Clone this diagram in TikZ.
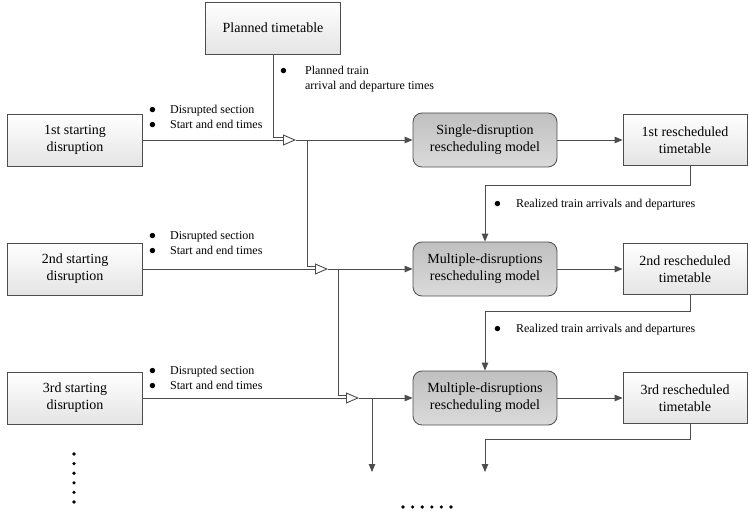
\documentclass[tikz,border=0pt]{standalone}
\usepackage{fontspec}
\setmainfont{Liberation Serif}
\usetikzlibrary{arrows.meta,calc}

\definecolor{linegray}{RGB}{77,77,77}
\definecolor{boxgray}{RGB}{228,228,228}
\definecolor{modtop}{RGB}{192,192,192}
\definecolor{modbot}{RGB}{218,218,218}
\newcommand\boxfont{\fontsize{14}{17}\selectfont}
\newcommand\notefont{\fontsize{12}{15}\selectfont}
\newcommand\dotmark{\scalebox{1.15}{$\bullet$}}

\tikzset{
  box/.style={draw=linegray, line width=0.8pt, top color=white, bottom color=boxgray,
    minimum width=135pt, minimum height=52pt, inner sep=0pt, align=center, font=\boxfont},
  resbox/.style={box, minimum width=124pt, minimum height=51pt},
  model/.style={box, rounded corners=9pt, top color=modtop, bottom color=modbot,
    minimum width=144pt, minimum height=54pt},
  link/.style={draw=linegray, line width=0.9pt},
  flow/.style={link, -{Triangle[length=8pt,width=6.5pt]}},
  merge/.style={link, -{Triangle[open,length=13pt,width=11pt]}},
  note/.style={anchor=west, inner sep=0pt, font=\notefont}
}

\begin{document}
\begin{tikzpicture}[x=1pt,y=1pt,yscale=-1]
\useasboundingbox (0,0) rectangle (749,513);

% Boxes
\node[box] (plan) at (273,28) {Planned timetable};
\node[box] (dis1) at (75,140) {1st starting\\disruption};
\node[box] (dis2) at (75,269) {2nd starting\\disruption};
\node[box] (dis3) at (75,398) {3rd starting\\disruption};
\node[model] (mod1) at (485,140) {Single-disruption\\rescheduling model};
\node[model] (mod2) at (485,269) {Multiple-disruptions\\rescheduling model};
\node[model] (mod3) at (485,398) {Multiple-disruptions\\rescheduling model};
\node[resbox] (res1) at (685,140) {1st rescheduled\\timetable};
\node[resbox] (res2) at (685,269) {2nd rescheduled\\timetable};
\node[resbox] (res3) at (685,398) {3rd rescheduled\\timetable};

% Merge tips and branch points
\coordinate (tip1) at (296,140);
\coordinate (tip2) at (328,269);
\coordinate (tip3) at (359,398);
\coordinate (br1) at (307,140);
\coordinate (br2) at (338,269);
\coordinate (br3) at (372,398);
\coordinate (end3) at (372,472);
\coordinate (end4) at (485,472);

% Inputs into merges
\draw[link] (plan.south) |- ($(tip1)+(-13,-3)$);
\draw[merge] (dis1) -- (tip1);
\draw[link] (br1) |- ($(tip2)+(-13,-3)$);
\draw[merge] (dis2) -- (tip2);
\draw[link] (br2) |- ($(tip3)+(-13,-3)$);
\draw[merge] (dis3) -- (tip3);

% Into models
\draw[flow] (tip1) -- (mod1);
\draw[flow] (tip2) -- (mod2);
\draw[flow] (tip3) -- (mod3);
\draw[flow] (br3) -- (end3);

% Models to timetables
\draw[flow] (mod1) -- (res1);
\draw[flow] (mod2) -- (res2);
\draw[flow] (mod3) -- (res3);

% Feedback of realized times
\draw[flow] ([xshift=5pt]res1.south) -- ++(0,20) -| (mod2.north);
\draw[flow] ([xshift=5pt]res2.south) -- ++(0,17) -| (mod3.north);
\draw[flow] ([xshift=5pt]res3.south) -- ++(0,16) -| (end4);

% Notes
\node[note] (n0) at (280,79.5) {\begin{tabular}{@{}l@{\hspace{18pt}}l@{}}\dotmark & Planned train\\ & arrival and departure times\end{tabular}};
\node[note] (n1) at (149,118.5) {\begin{tabular}{@{}l@{\hspace{14pt}}l@{}}\dotmark & Disrupted section\\ \dotmark & Start and end times\end{tabular}};
\node[note] (n2) at (149,243.5) {\begin{tabular}{@{}l@{\hspace{14pt}}l@{}}\dotmark & Disrupted section\\ \dotmark & Start and end times\end{tabular}};
\node[note] (n3) at (149,379) {\begin{tabular}{@{}l@{\hspace{14pt}}l@{}}\dotmark & Disrupted section\\ \dotmark & Start and end times\end{tabular}};
\node[note] (n4) at (494,205) {\dotmark\hspace{15pt}Realized train arrivals and departures};
\node[note] (n5) at (494,330) {\dotmark\hspace{15pt}Realized train arrivals and departures};

% Continuation dots
\foreach \k in {0,...,5}
  \fill (74,454+9.6*\k) circle (1.8);
\foreach \k in {0,...,5}
  \fill (403+9.6*\k,507) circle (1.8);

\end{tikzpicture}
\end{document}
